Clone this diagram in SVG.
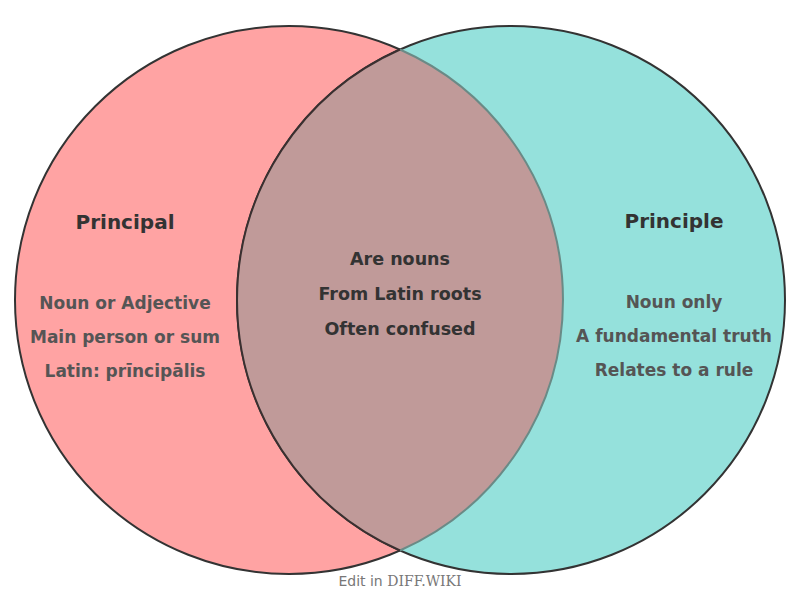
<svg xmlns="http://www.w3.org/2000/svg" width="800" height="600" viewBox="0 0 800 600">
<style>
.title{font-family:"DejaVu Sans",sans-serif;font-weight:bold;font-size:20px;fill:#333;text-anchor:middle}
.item{font-family:"DejaVu Sans",sans-serif;font-weight:bold;font-size:17px;fill:#555;text-anchor:middle}
.mid{font-family:"DejaVu Sans",sans-serif;font-weight:bold;font-size:17.5px;fill:#333;text-anchor:middle}
.foot{font-family:"DejaVu Sans",sans-serif;font-size:14px;fill:#777;text-anchor:middle}
</style>
<rect width="800" height="600" fill="#fff"/>
<g id="set-principal">
<circle cx="289" cy="300" r="274" fill="#FFA3A3" stroke="#333" stroke-width="2"/>
</g>
<g id="set-principle">
<circle cx="511" cy="300" r="274" fill="#95E1DC" stroke="#333" stroke-width="2"/>
</g>
<g id="overlap">
<path d="M400,49.5 A274,274 0 0,1 400,550.5 A274,274 0 0,1 400,49.5 Z" fill="#C09A99"/>
<path d="M400,49.5 A274,274 0 0,1 400,550.5" fill="none" stroke="#6a8a86" stroke-width="2"/>
<path d="M400,550.5 A274,274 0 0,1 400,49.5" fill="none" stroke="#3a3030" stroke-width="2"/>
</g>
<g id="label-principal">
<text class="title" x="125" y="229">Principal</text>
<text class="item" x="125" y="309">Noun or Adjective</text>
<text class="item" x="125" y="343">Main person or sum</text>
<text class="item" x="125" y="377">Latin: prīncipālis</text>
</g>
<g id="label-principle">
<text class="title" x="674" y="228">Principle</text>
<text class="item" x="674" y="308">Noun only</text>
<text class="item" x="674" y="342">A fundamental truth</text>
<text class="item" x="674" y="376">Relates to a rule</text>
</g>
<g id="label-both">
<text class="mid" x="400" y="265">Are nouns</text>
<text class="mid" x="400" y="300">From Latin roots</text>
<text class="mid" x="400" y="335">Often confused</text>
</g>
<g id="connectors"/>
<text class="foot" x="400" y="586">Edit in <tspan font-family="'DejaVu Serif',serif">DIFF.WIKI</tspan></text>
</svg>
